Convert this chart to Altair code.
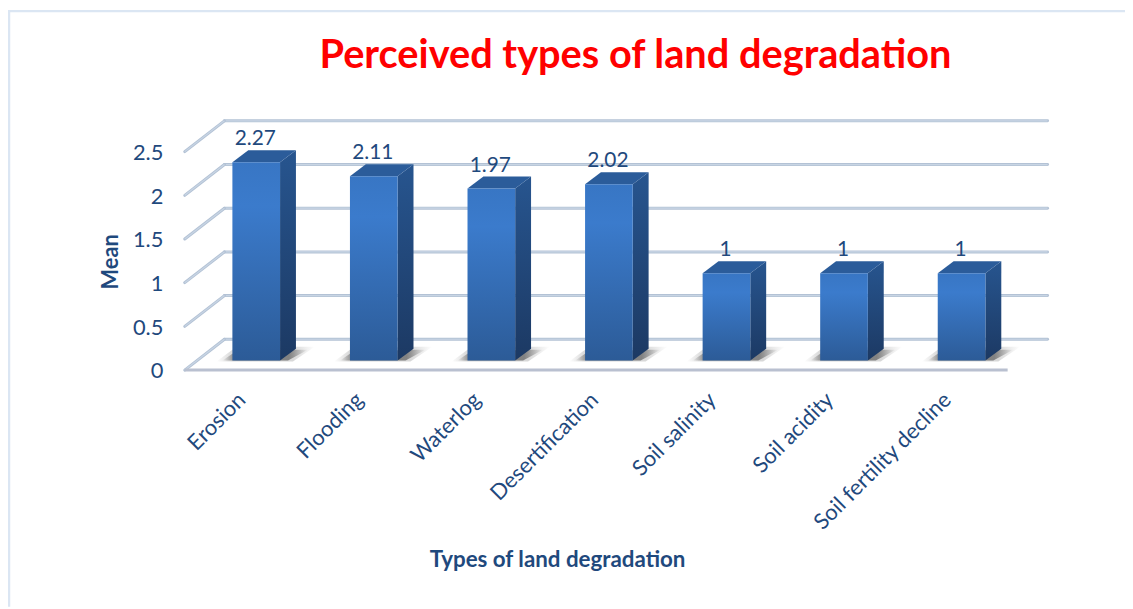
import altair as alt
import pandas as pd

categories = ["Erosion", "Flooding", "Waterlog", "Desertification",
              "Soil salinity", "Soil acidity", "Soil fertility decline"]
means = [2.27, 2.11, 1.97, 2.02, 1, 1, 1]
ticks = [0, 0.5, 1, 1.5, 2, 2.5]

W, H = 869, 250.5
SLOT, UNIT = 118.4, 88.0
XMAX, YMAX = W / SLOT, H / UNIT
WALL_X, WALL_Y = 40 / SLOT, 31 / UNIT
DEPTH_X, DEPTH_Y = 16 / SLOT, 12 / UNIT
BASE = 9.5 / UNIT
BAR_L = (234 - 186) / SLOT - 0
BAR_W = 48 / SLOT
FLOOR_END = 7.0
GRID = "#b3c2d5"
GRID_LIGHT = "#c8d5e4"
TEXT = "#1f497d"
FONT = "Lato"

x_s = alt.Scale(domain=[0, XMAX], range=[0, W], nice=False, zero=False)
y_s = alt.Scale(domain=[0, YMAX], range=[H, 0], nice=False, zero=False)

label_expr = "[" + ",".join(f"'{c}'" for c in categories) + "][floor(datum.value)]"
AX = alt.Axis(
    values=[i + 0.5 for i in range(len(categories))], labelExpr=label_expr,
    labelAngle=-45, labelAlign="right", labelBaseline="middle",
    labelOverlap=False, labelFlush=False, labelBound=False, labelLimit=400,
    labelPadding=26, labelOffset=-2, labelFont=FONT, labelFontSize=22, labelColor=TEXT,
    domain=False, ticks=False, grid=False,
    title="Types of land degradation", titleFont=FONT, titleFontSize=22.5,
    titleFontWeight="bold", titleColor=TEXT, titleX=375, titleY=191,
    titleAnchor="middle", titleAlign="center", titleBaseline="middle")
AY = alt.Axis(
    values=ticks, labelFont=FONT, labelFontSize=22, labelColor=TEXT, labelPadding=22,
    labelOffset=1, domain=False, ticks=False, grid=False,
    labelExpr="format(datum.value,'')",
    title="Mean", titleFont=FONT, titleFontSize=22, titleFontWeight="bold",
    titleColor=TEXT, titleX=-75, titleY=141, titleAnchor="middle",
    titleAlign="center", titleBaseline="middle")
X = lambda f="x": alt.X(f"{f}:Q", scale=x_s, axis=AX)
Y = lambda f="y": alt.Y(f"{f}:Q", scale=y_s, axis=AY)

fronts, sides, tops, shadows, shadows2, grids, diags, labels = [], [], [], [], [], [], [], []
for i, (c, v) in enumerate(zip(categories, means)):
    L = i + BAR_L
    R = L + BAR_W
    top = v + BASE
    fronts.append(dict(x=L, x2=R, y=BASE, y2=top))
    sides += [dict(b=i, x=R, y=BASE, y2=top),
              dict(b=i, x=R + DEPTH_X, y=BASE + DEPTH_Y, y2=top + DEPTH_Y)]
    tops += [dict(b=i, x=L, y=top, y2=top),
             dict(b=i, x=L + DEPTH_X, y=top, y2=top + DEPTH_Y),
             dict(b=i, x=R, y=top, y2=top + DEPTH_Y),
             dict(b=i, x=R + DEPTH_X, y=top + DEPTH_Y, y2=top + DEPTH_Y)]
    shadows += [dict(b=i, x=L - 10 / SLOT, y=BASE, y2=BASE),
                dict(b=i, x=L, y=BASE, y2=BASE + 7 / UNIT),
                dict(b=i, x=R + 8 / SLOT, y=BASE, y2=BASE + 11 / UNIT),
                dict(b=i, x=R + 28 / SLOT, y=BASE + 11 / UNIT, y2=BASE + 11 / UNIT)]
    shadows2 += [dict(b=i, x=L - 16 / SLOT, y=BASE - 1 / UNIT, y2=BASE - 1 / UNIT),
                 dict(b=i, x=L, y=BASE - 1 / UNIT, y2=BASE + 11 / UNIT),
                 dict(b=i, x=R + 13 / SLOT, y=BASE - 1 / UNIT, y2=BASE + 14 / UNIT),
                 dict(b=i, x=R + 35 / SLOT, y=BASE + 14 / UNIT, y2=BASE + 14 / UNIT)]
    labels.append(dict(x=(L + R) / 2, y=top + DEPTH_Y, t=f"{v:g}"))
for t in ticks:
    grids.append(dict(x=WALL_X, x2=XMAX, y=t + WALL_Y))
    diags += [dict(t=t, x=0, y=t), dict(t=t, x=WALL_X, y=t + WALL_Y)]

def grad(c1, c2, c3=None):
    stops = [alt.GradientStop(color=c1, offset=0)]
    if c3:
        stops.append(alt.GradientStop(color=c3, offset=0.22))
    stops.append(alt.GradientStop(color=c2, offset=1))
    return alt.Gradient(gradient="linear", stops=stops, x1=0, x2=0, y1=0, y2=1)

def shade(a):
    return alt.Gradient(gradient="linear", x1=0, x2=1, y1=0, y2=0, stops=[
        alt.GradientStop(color="rgba(60,60,60,0)", offset=0),
        alt.GradientStop(color=f"rgba(60,60,60,{a})", offset=0.16),
        alt.GradientStop(color=f"rgba(60,60,60,{a})", offset=0.78),
        alt.GradientStop(color="rgba(60,60,60,0)", offset=1)])

gd = pd.DataFrame(grids)
gl1 = alt.Chart(gd).mark_rule(color=GRID, strokeWidth=3, strokeCap="round").encode(x=X(), x2="x2:Q", y=Y())
gl2 = alt.Chart(gd).mark_rule(color=GRID_LIGHT, strokeWidth=1.2).encode(x=X(), x2="x2:Q", y=Y())
dd = pd.DataFrame(diags)
dg1 = alt.Chart(dd).mark_line(color=GRID, strokeWidth=3, strokeCap="round").encode(x=X(), y=Y(), detail="t:N")
dg2 = alt.Chart(dd).mark_line(color=GRID_LIGHT, strokeWidth=1.2).encode(x=X(), y=Y(), detail="t:N")
floor = alt.Chart(pd.DataFrame([dict(x=0, x2=FLOOR_END, y=0)])).mark_rule(
    color="#b9c0d0", strokeWidth=3).encode(x=X(), x2="x2:Q", y=Y())

shadow2 = alt.Chart(pd.DataFrame(shadows2)).mark_area(fill=shade(0.2)).encode(
    x=X(), y=Y(), y2="y2:Q", detail="b:N")
shadow = alt.Chart(pd.DataFrame(shadows)).mark_area(fill=shade(0.55)).encode(
    x=X(), y=Y(), y2="y2:Q", detail="b:N")
side = alt.Chart(pd.DataFrame(sides)).mark_area(fill=grad("#27558f", "#1c3963")).encode(
    x=X(), y=Y(), y2="y2:Q", detail="b:N")
topf = alt.Chart(pd.DataFrame(tops)).mark_area(color="#2b5c9a").encode(
    x=X(), y=Y(), y2="y2:Q", detail="b:N")
front = alt.Chart(pd.DataFrame(fronts)).mark_bar(fill=grad("#3876c4", "#2c5b97", "#3b7bcc")).encode(
    x=X(), x2="x2:Q", y=Y(), y2="y2:Q")
text = alt.Chart(pd.DataFrame(labels)).mark_text(
    font=FONT, fontSize=21, color=TEXT, dy=-11, dx=-1, baseline="middle").encode(
    x=X(), y=Y(), text="t:N")

frame_top = alt.Chart(pd.DataFrame({"a": [0]})).mark_rule(color="#dbe6f3", strokeWidth=2.5).encode(
    x=alt.value(-178), x2=alt.value(947), y=alt.value(-111))
frame_left = alt.Chart(pd.DataFrame({"a": [0]})).mark_rule(color="#dbe6f3", strokeWidth=2.5).encode(
    x=alt.value(-177), y=alt.value(-112), y2=alt.value(489))

chart = alt.layer(frame_top, frame_left, gl1, gl2, dg1, dg2, floor, shadow2, shadow,
                  side, topf, front, text).properties(
    width=W, height=H, background="white",
    padding={"left": 178, "top": 112, "right": 78, "bottom": 238},
    autosize=alt.AutoSizeParams(type="none"),
    title=alt.TitleParams("Perceived types of land degradation", font=FONT, fontSize=40,
                          fontWeight="bold", color="#ff0000", anchor="middle", frame="group",
                          dx=19.5, dy=68, offset=0),
).configure_view(strokeWidth=0, stroke="transparent")

chart.save("out.html", embed_options={"renderer": "svg", "actions": False})
